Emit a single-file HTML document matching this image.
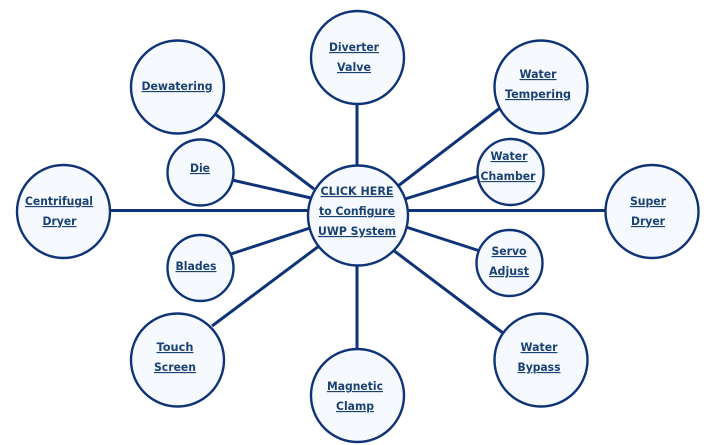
<!DOCTYPE html>
<html><head><meta charset="utf-8"><style>
html,body{margin:0;padding:0;background:#fff}
svg{display:block}
text{font-family:"DejaVu Sans","Liberation Sans",sans-serif;font-size:11.5px;font-weight:bold;fill:#1a4173;text-anchor:middle;text-decoration:underline}
.l{stroke:#0f3377;stroke-width:3;fill:none}
circle{fill:#f6faff;stroke:#0f3377;stroke-width:2.4}
</style></head><body>
<svg width="706" height="445" viewBox="0 0 706 445" xmlns="http://www.w3.org/2000/svg">
<rect width="706" height="445" fill="#fff"/>
<g class="l">
<line x1="357" y1="100" x2="357" y2="170"/>
<line x1="215" y1="114" x2="314" y2="189"/>
<line x1="500" y1="108" x2="398" y2="186"/>
<line x1="232" y1="180" x2="311" y2="198"/>
<line x1="479" y1="176" x2="405" y2="199"/>
<line x1="105" y1="210.5" x2="312" y2="210.5"/>
<line x1="404" y1="210.5" x2="610" y2="210.5"/>
<line x1="231" y1="254" x2="310" y2="228"/>
<line x1="480" y1="251" x2="406" y2="227"/>
<line x1="212" y1="326" x2="319" y2="246"/>
<line x1="503" y1="333" x2="393" y2="250"/>
<line x1="357" y1="262" x2="357" y2="352"/>
</g>
<circle cx="357.5" cy="57.5" r="46.5"/>
<circle cx="177.5" cy="87" r="46.5"/>
<circle cx="541" cy="87" r="46.5"/>
<circle cx="200.5" cy="172.5" r="33"/>
<circle cx="510.5" cy="172" r="33"/>
<circle cx="63.5" cy="211.5" r="46.5"/>
<circle cx="652" cy="211.5" r="46.5"/>
<circle cx="200.5" cy="268" r="33"/>
<circle cx="509.5" cy="263" r="33"/>
<circle cx="177.5" cy="360" r="46.5"/>
<circle cx="541" cy="360" r="46.5"/>
<circle cx="357.5" cy="395.5" r="46.5"/>
<circle cx="358" cy="215.5" r="50"/>
<text x="354" y="51" textLength="50" lengthAdjust="spacingAndGlyphs">Diverter</text>
<text x="354" y="71" textLength="34" lengthAdjust="spacingAndGlyphs">Valve</text>
<text x="177" y="90" textLength="71" lengthAdjust="spacingAndGlyphs">Dewatering</text>
<text x="538" y="78" textLength="37" lengthAdjust="spacingAndGlyphs">Water</text>
<text x="538" y="98" textLength="66" lengthAdjust="spacingAndGlyphs">Tempering</text>
<text x="200" y="172" textLength="20" lengthAdjust="spacingAndGlyphs">Die</text>
<text x="509" y="160" textLength="37" lengthAdjust="spacingAndGlyphs">Water</text>
<text x="508" y="180" textLength="55" lengthAdjust="spacingAndGlyphs">Chamber</text>
<text x="59" y="205" textLength="68" lengthAdjust="spacingAndGlyphs">Centrifugal</text>
<text x="59.5" y="225" textLength="34" lengthAdjust="spacingAndGlyphs">Dryer</text>
<text x="648" y="205" textLength="36" lengthAdjust="spacingAndGlyphs">Super</text>
<text x="648" y="225" textLength="34" lengthAdjust="spacingAndGlyphs">Dryer</text>
<text x="357" y="195" textLength="73" lengthAdjust="spacingAndGlyphs">CLICK HERE</text>
<text x="357" y="215" textLength="76" lengthAdjust="spacingAndGlyphs">to Configure</text>
<text x="357" y="235" textLength="78" lengthAdjust="spacingAndGlyphs">UWP System</text>
<text x="196" y="270" textLength="41" lengthAdjust="spacingAndGlyphs">Blades</text>
<text x="509" y="255" textLength="35" lengthAdjust="spacingAndGlyphs">Servo</text>
<text x="509" y="275" textLength="40" lengthAdjust="spacingAndGlyphs">Adjust</text>
<text x="175" y="351" textLength="37" lengthAdjust="spacingAndGlyphs">Touch</text>
<text x="175" y="371" textLength="42" lengthAdjust="spacingAndGlyphs">Screen</text>
<text x="539" y="351" textLength="37" lengthAdjust="spacingAndGlyphs">Water</text>
<text x="539" y="371" textLength="43" lengthAdjust="spacingAndGlyphs">Bypass</text>
<text x="355" y="390" textLength="56" lengthAdjust="spacingAndGlyphs">Magnetic</text>
<text x="355" y="410" textLength="38" lengthAdjust="spacingAndGlyphs">Clamp</text>
</svg>
</body></html>
